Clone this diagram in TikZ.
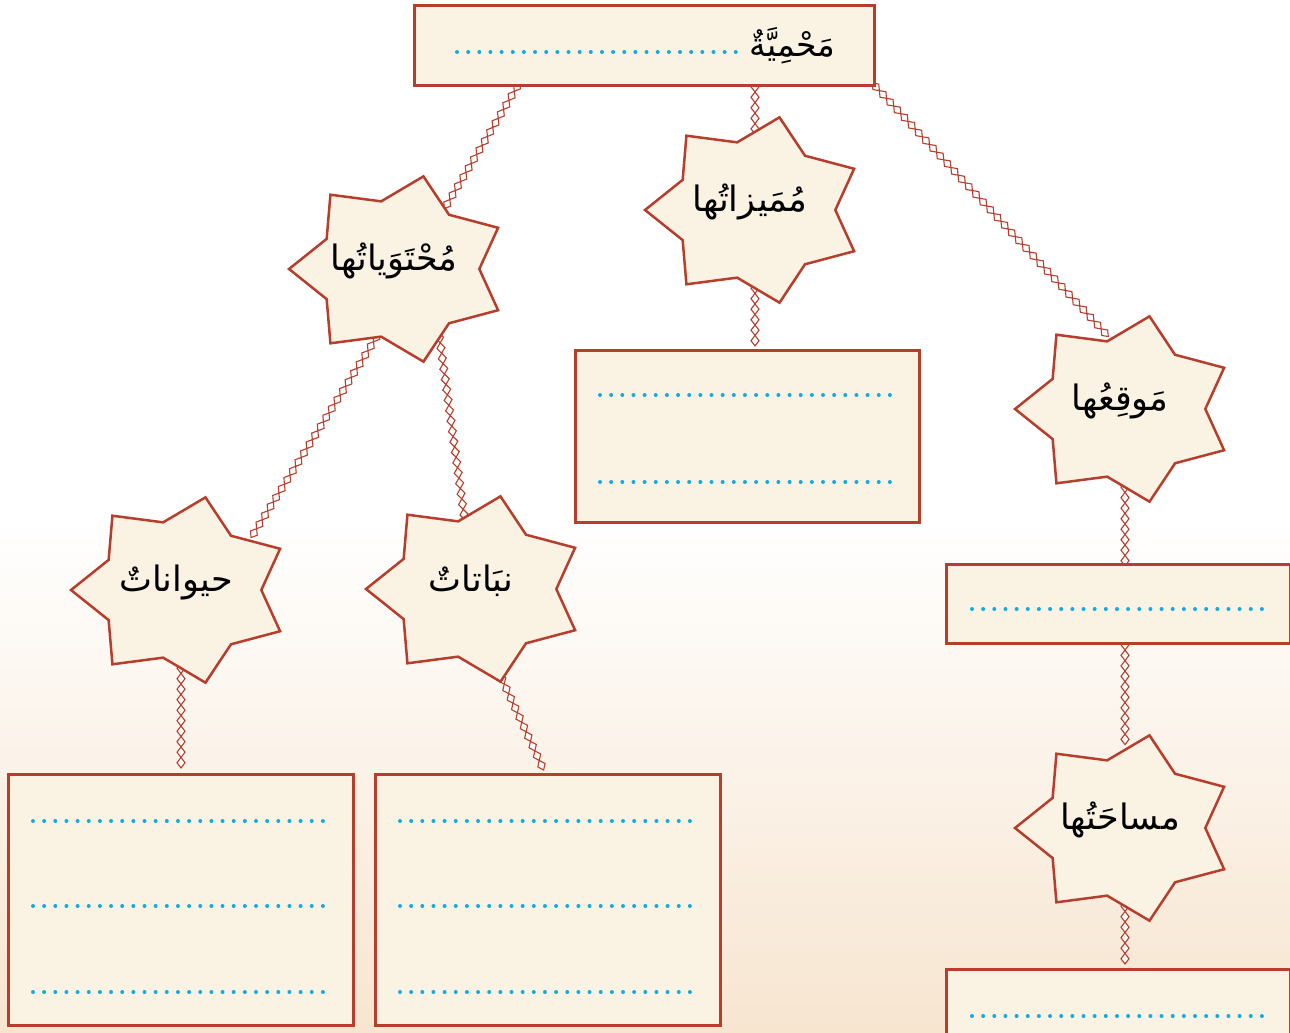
\documentclass[tikz,border=0pt]{standalone}
\usepackage{fontspec}
\usepackage{tikz}
\usetikzlibrary{shapes.geometric,decorations.markings}
\newfontfamily\arabicfont[Script=Arabic]{DejaVu Sans}
\TeXXeTstate=1
\definecolor{linkred}{RGB}{183,62,45}
\definecolor{cream}{RGB}{250,243,227}
\definecolor{dotblue}{RGB}{20,171,227}
\definecolor{peach}{RGB}{247,229,208}
\pgfdeclarelayer{links}
\pgfsetlayers{links,main}

\begin{document}
\begin{tikzpicture}[x=1pt,y=-1pt]
  \tikzset{blankbox/.style = {draw=linkred, line width=2.8pt, fill=cream, inner sep=0pt, anchor=north west}}
  \tikzset{starbox/.style = {star, star points=7, star point ratio=1.37, minimum size=220pt, shape border rotate=90, draw=linkred, line width=2.5pt, fill=cream, inner sep=0pt, outer sep=0pt, transform shape}}
  \tikzset{startext/.style = {font=\arabicfont\fontsize{35}{40}\selectfont, inner sep=0pt}}
  \tikzset{dotrow/.style = {dotblue, line width=4pt, line cap=round, dash pattern=on 0pt off 11.15pt}}
  \tikzset{chainlink/.style = {decoration={markings, mark=between positions 0 and 1 step 10.5pt with {\draw[linkred, line width=1.1pt, fill=white] (-5.25pt,0) -- (0,4pt) -- (5.25pt,0) -- (0,-4pt) -- cycle;}}, postaction={decorate}}}

  \useasboundingbox (0,0) rectangle (1290,1033);
  \begin{pgfonlayer}{links}
    \fill[white] (0,0) rectangle (1290,1033);
    \shade[top color=white, bottom color=peach] (0,520) rectangle (1290,1033);
  \end{pgfonlayer}

  % boxes
  \node[blankbox, minimum width=460pt, minimum height=80pt] (topbox) at (413,4) {};
  \node[blankbox, minimum width=344pt, minimum height=172pt] (mumbox) at (574,349) {};
  \node[blankbox, minimum width=344pt, minimum height=79pt] (mawqbox) at (945,563) {};
  \node[blankbox, minimum width=344pt, minimum height=120pt] (masbox) at (945,968) {};
  \node[blankbox, minimum width=345pt, minimum height=251pt] (haybox) at (7,773) {};
  \node[blankbox, minimum width=345pt, minimum height=251pt] (nabbox) at (374,773) {};
  \node[startext, anchor=east, font=\arabicfont\fontsize{33}{38}\selectfont] (topbox-t) at ([xshift=-40pt]topbox.east) {\beginR مَحْمِيَّةٌ\endR};

  \draw[dotrow] (457,52) -- ++(280,0);
  \foreach \x/\y in {600/395, 600/482, 972/609, 972/1016, 33/821, 33/906, 33/992, 400/821, 400/906, 400/992}
    \draw[dotrow] (\x,\y) -- ++(290.5,0);

  % stars
  \foreach \nm/\x/\y/\txt in {muh/399/269/مُحْتَوَياتُها, mum/755/210/مُمَيزاتُها, mawq/1125/409/مَوقِعُها, hay/181/590/حيواناتٌ, nab/476/589/نبَاتاتٌ, masa/1125/828/مساحَتُها}
  {
    \begin{scope}[shift={(\x,\y)}, yscale=0.864]
      \node[starbox] (\nm) at (0,0) {};
    \end{scope}
    \node[startext] (\nm-t) at (\x-5,\y-8) {\beginR\txt\endR};
  }

  \begin{pgfonlayer}{links}
    \foreach \from/\to in {muh.254/hay.40, muh.297/nab.98, topbox.south east/mawq.100}
      \path[chainlink] (\from) -- (\to);
    \path[chainlink] ([xshift=104pt]topbox.south west) -- (muh.57);
    \path[chainlink] (topbox.south -| mum.90) -- (mum.90);
    \path[chainlink] (mum.270) -- (mum.270 |- mumbox.north);
    \path[chainlink] (mawq.270) -- (mawq.270 |- mawqbox.north);
    \path[chainlink] (mawqbox.south -| masa.90) -- (masa.90);
    \path[chainlink] (masa.270) -- (masa.270 |- masbox.north);
    \path[chainlink] (hay.270) -- (hay.270 |- haybox.north);
    \path[chainlink] (nab.284) -- ([xshift=171pt]nabbox.north west);
  \end{pgfonlayer}
\end{tikzpicture}
\end{document}
